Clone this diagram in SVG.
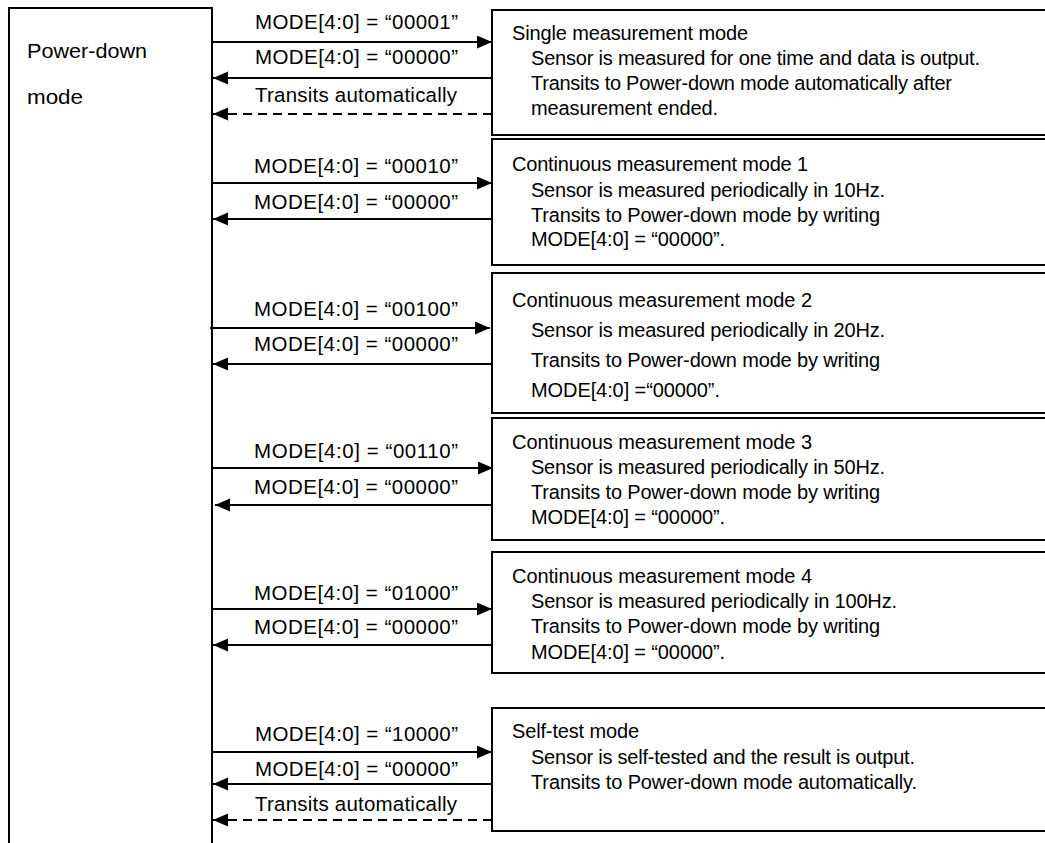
<svg xmlns="http://www.w3.org/2000/svg" width="1045" height="843" viewBox="0 0 1045 843">
<style>
text{font-family:"Liberation Sans",Arial,Helvetica,sans-serif;font-size:20px;fill:#000}
.pd{font-size:21px}
.lb{font-size:20.5px}
.box{fill:#fff;stroke:#000;stroke-width:2}
.ln{fill:none;stroke:#000;stroke-width:2}
.ar{fill:none;stroke:#000;stroke-width:2;marker-end:url(#ah)}
.da{fill:none;stroke:#000;stroke-width:2;stroke-dasharray:9 6;marker-end:url(#ah)}
</style>
<defs>
<marker id="ah" markerUnits="userSpaceOnUse" markerWidth="16" markerHeight="14" refX="15" refY="6.5" orient="auto">
<path d="M0,0 L15,6.5 L0,13 Z" fill="#000"/>
</marker>
</defs>
<rect width="1045" height="843" fill="#fff"/>
<g id="power-down">
<path class="ln" d="M9,843 V8 H212 V843"/>
<text class="pd" x="27" y="58" textLength="120" lengthAdjust="spacingAndGlyphs">Power-down</text>
<text class="pd" x="27" y="104" textLength="56" lengthAdjust="spacingAndGlyphs">mode</text>
</g>
<g id="single">
<rect class="box" x="492" y="10" width="570" height="125"/>
<text x="512" y="40" textLength="236">Single measurement mode</text>
<text x="531" y="65" textLength="449">Sensor is measured for one time and data is output.</text>
<text x="531" y="90" textLength="421">Transits to Power-down mode automatically after</text>
<text x="531" y="115" textLength="187">measurement ended.</text>
</g>
<g id="cont1">
<rect class="box" x="492" y="139" width="570" height="126"/>
<text x="512" y="171" textLength="296">Continuous measurement mode 1</text>
<text x="531" y="197" textLength="354">Sensor is measured periodically in 10Hz.</text>
<text x="531" y="222" textLength="349">Transits to Power-down mode by writing</text>
<text x="531" y="246" textLength="194">MODE[4:0] = “00000”.</text>
</g>
<g id="cont2">
<rect class="box" x="492" y="273" width="570" height="140"/>
<text x="512" y="307" textLength="300">Continuous measurement mode 2</text>
<text x="531" y="337" textLength="354">Sensor is measured periodically in 20Hz.</text>
<text x="531" y="367" textLength="349">Transits to Power-down mode by writing</text>
<text x="531" y="397" textLength="189">MODE[4:0] =“00000”.</text>
</g>
<g id="cont3">
<rect class="box" x="492" y="418" width="570" height="122"/>
<text x="512" y="449" textLength="300">Continuous measurement mode 3</text>
<text x="531" y="474" textLength="354">Sensor is measured periodically in 50Hz.</text>
<text x="531" y="499" textLength="349">Transits to Power-down mode by writing</text>
<text x="531" y="524" textLength="194">MODE[4:0] = “00000”.</text>
</g>
<g id="cont4">
<rect class="box" x="492" y="552" width="570" height="121"/>
<text x="512" y="583" textLength="300">Continuous measurement mode 4</text>
<text x="531" y="608" textLength="366">Sensor is measured periodically in 100Hz.</text>
<text x="531" y="633" textLength="349">Transits to Power-down mode by writing</text>
<text x="531" y="659" textLength="194">MODE[4:0] = “00000”.</text>
</g>
<g id="selftest">
<rect class="box" x="492" y="708" width="570" height="123"/>
<text x="512" y="738" textLength="127">Self-test mode</text>
<text x="531" y="764" textLength="384">Sensor is self-tested and the result is output.</text>
<text x="531" y="789" textLength="386">Transits to Power-down mode automatically.</text>
</g>
<g id="connectors">
<path class="ar" d="M212,42 H492"/>
<path class="ar" d="M492,78 H213"/>
<path class="da" d="M492,114 H213"/>
<path class="ar" d="M212,183 H492"/>
<path class="ar" d="M492,219 H213"/>
<path class="ar" d="M210,328 H490"/>
<path class="ar" d="M492,364 H213"/>
<path class="ar" d="M212,468 H493"/>
<path class="ar" d="M492,505 H215"/>
<path class="ar" d="M212,609 H492"/>
<path class="ar" d="M492,645 H213"/>
<path class="ar" d="M212,752 H492"/>
<path class="ar" d="M492,784 H213"/>
<path class="da" d="M492,820 H213"/>
<text class="lb" x="255" y="29" textLength="203">MODE[4:0] = “00001”</text>
<text class="lb" x="255" y="64" textLength="203">MODE[4:0] = “00000”</text>
<text class="lb" x="255" y="102" textLength="202">Transits automatically</text>
<text class="lb" x="254" y="173" textLength="204">MODE[4:0] = “00010”</text>
<text class="lb" x="254" y="209" textLength="204">MODE[4:0] = “00000”</text>
<text class="lb" x="254" y="316" textLength="204">MODE[4:0] = “00100”</text>
<text class="lb" x="254" y="351" textLength="204">MODE[4:0] = “00000”</text>
<text class="lb" x="254" y="458" textLength="204">MODE[4:0] = “00110”</text>
<text class="lb" x="254" y="494" textLength="204">MODE[4:0] = “00000”</text>
<text class="lb" x="254" y="600" textLength="204">MODE[4:0] = “01000”</text>
<text class="lb" x="254" y="634" textLength="204">MODE[4:0] = “00000”</text>
<text class="lb" x="255" y="741" textLength="203">MODE[4:0] = “10000”</text>
<text class="lb" x="255" y="776" textLength="203">MODE[4:0] = “00000”</text>
<text class="lb" x="255" y="811" textLength="202">Transits automatically</text>
</g>
</svg>
